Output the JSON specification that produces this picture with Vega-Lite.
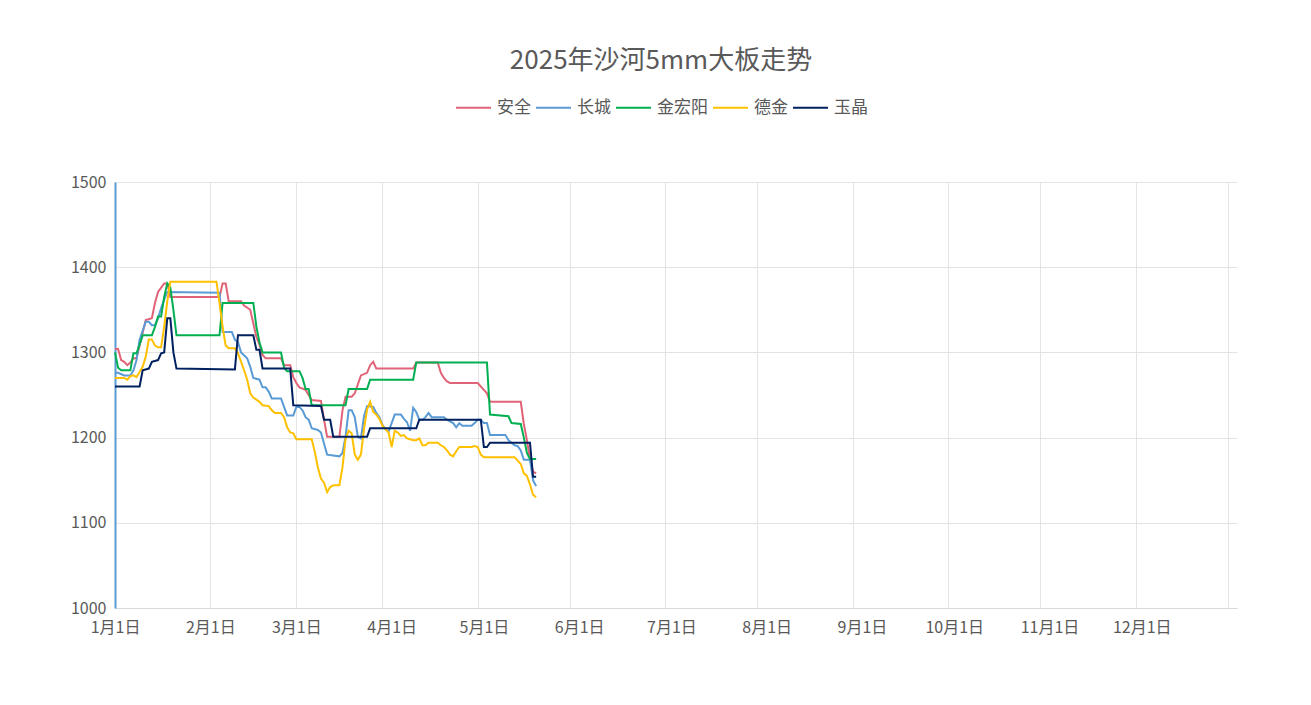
{
  "$schema": "https://vega.github.io/schema/vega-lite/v6.json",
  "width": 1122,
  "height": 426,
  "autosize": {"type": "none"},
  "padding": {"left": 115, "top": 182, "right": 74, "bottom": 97},
  "background": "white",
  "title": {"text": "2025年沙河5mm大板走势", "anchor": "middle", "frame": "group", "dx": -15, "offset": 15, "fontSize": 26, "font": "Noto Sans CJK SC", "fontWeight": "normal", "color": "#595959"},
  "data": {"values": [
    {"date":"2025/01/01","brand":"安全","price":1304},
    {"date":"2025/01/02","brand":"安全","price":1304},
    {"date":"2025/01/03","brand":"安全","price":1291},
    {"date":"2025/01/04","brand":"安全","price":1289},
    {"date":"2025/01/05","brand":"安全","price":1285},
    {"date":"2025/01/06","brand":"安全","price":1288},
    {"date":"2025/01/07","brand":"安全","price":1293},
    {"date":"2025/01/08","brand":"安全","price":1293},
    {"date":"2025/01/10","brand":"安全","price":1323},
    {"date":"2025/01/11","brand":"安全","price":1338},
    {"date":"2025/01/13","brand":"安全","price":1340},
    {"date":"2025/01/14","brand":"安全","price":1358},
    {"date":"2025/01/15","brand":"安全","price":1371},
    {"date":"2025/01/17","brand":"安全","price":1381},
    {"date":"2025/01/18","brand":"安全","price":1381},
    {"date":"2025/01/19","brand":"安全","price":1365},
    {"date":"2025/02/04","brand":"安全","price":1365},
    {"date":"2025/02/05","brand":"安全","price":1381},
    {"date":"2025/02/06","brand":"安全","price":1381},
    {"date":"2025/02/07","brand":"安全","price":1360},
    {"date":"2025/02/11","brand":"安全","price":1360},
    {"date":"2025/02/12","brand":"安全","price":1355},
    {"date":"2025/02/14","brand":"安全","price":1350},
    {"date":"2025/02/15","brand":"安全","price":1334},
    {"date":"2025/02/16","brand":"安全","price":1318},
    {"date":"2025/02/17","brand":"安全","price":1309},
    {"date":"2025/02/18","brand":"安全","price":1297},
    {"date":"2025/02/19","brand":"安全","price":1293},
    {"date":"2025/02/24","brand":"安全","price":1293},
    {"date":"2025/02/25","brand":"安全","price":1285},
    {"date":"2025/02/27","brand":"安全","price":1285},
    {"date":"2025/02/28","brand":"安全","price":1271},
    {"date":"2025/03/01","brand":"安全","price":1264},
    {"date":"2025/03/02","brand":"安全","price":1259},
    {"date":"2025/03/04","brand":"安全","price":1256},
    {"date":"2025/03/06","brand":"安全","price":1244},
    {"date":"2025/03/09","brand":"安全","price":1243},
    {"date":"2025/03/10","brand":"安全","price":1221},
    {"date":"2025/03/11","brand":"安全","price":1201},
    {"date":"2025/03/15","brand":"安全","price":1201},
    {"date":"2025/03/16","brand":"安全","price":1232},
    {"date":"2025/03/17","brand":"安全","price":1248},
    {"date":"2025/03/19","brand":"安全","price":1248},
    {"date":"2025/03/20","brand":"安全","price":1252},
    {"date":"2025/03/22","brand":"安全","price":1273},
    {"date":"2025/03/24","brand":"安全","price":1276},
    {"date":"2025/03/25","brand":"安全","price":1285},
    {"date":"2025/03/26","brand":"安全","price":1289},
    {"date":"2025/03/27","brand":"安全","price":1281},
    {"date":"2025/04/08","brand":"安全","price":1281},
    {"date":"2025/04/09","brand":"安全","price":1288},
    {"date":"2025/04/16","brand":"安全","price":1288},
    {"date":"2025/04/17","brand":"安全","price":1276},
    {"date":"2025/04/18","brand":"安全","price":1270},
    {"date":"2025/04/19","brand":"安全","price":1266},
    {"date":"2025/04/20","brand":"安全","price":1264},
    {"date":"2025/04/29","brand":"安全","price":1264},
    {"date":"2025/05/01","brand":"安全","price":1256},
    {"date":"2025/05/02","brand":"安全","price":1252},
    {"date":"2025/05/03","brand":"安全","price":1242},
    {"date":"2025/05/13","brand":"安全","price":1242},
    {"date":"2025/05/14","brand":"安全","price":1216},
    {"date":"2025/05/15","brand":"安全","price":1197},
    {"date":"2025/05/16","brand":"安全","price":1175},
    {"date":"2025/05/17","brand":"安全","price":1160},
    {"date":"2025/05/18","brand":"安全","price":1158},

    {"date":"2025/01/01","brand":"长城","price":1276},
    {"date":"2025/01/02","brand":"长城","price":1276},
    {"date":"2025/01/04","brand":"长城","price":1273},
    {"date":"2025/01/06","brand":"长城","price":1273},
    {"date":"2025/01/07","brand":"长城","price":1279},
    {"date":"2025/01/08","brand":"长城","price":1291},
    {"date":"2025/01/09","brand":"长城","price":1315},
    {"date":"2025/01/11","brand":"长城","price":1336},
    {"date":"2025/01/12","brand":"长城","price":1336},
    {"date":"2025/01/13","brand":"长城","price":1332},
    {"date":"2025/01/14","brand":"长城","price":1332},
    {"date":"2025/01/15","brand":"长城","price":1340},
    {"date":"2025/01/16","brand":"长城","price":1352},
    {"date":"2025/01/17","brand":"长城","price":1362},
    {"date":"2025/01/18","brand":"长城","price":1371},
    {"date":"2025/02/04","brand":"长城","price":1370},
    {"date":"2025/02/05","brand":"长城","price":1324},
    {"date":"2025/02/08","brand":"长城","price":1324},
    {"date":"2025/02/09","brand":"长城","price":1315},
    {"date":"2025/02/10","brand":"长城","price":1312},
    {"date":"2025/02/11","brand":"长城","price":1300},
    {"date":"2025/02/13","brand":"长城","price":1293},
    {"date":"2025/02/14","brand":"长城","price":1283},
    {"date":"2025/02/15","brand":"长城","price":1270},
    {"date":"2025/02/17","brand":"长城","price":1268},
    {"date":"2025/02/18","brand":"长城","price":1259},
    {"date":"2025/02/19","brand":"长城","price":1259},
    {"date":"2025/02/20","brand":"长城","price":1254},
    {"date":"2025/02/21","brand":"长城","price":1246},
    {"date":"2025/02/24","brand":"长城","price":1246},
    {"date":"2025/02/25","brand":"长城","price":1236},
    {"date":"2025/02/26","brand":"长城","price":1226},
    {"date":"2025/02/28","brand":"长城","price":1226},
    {"date":"2025/03/01","brand":"长城","price":1236},
    {"date":"2025/03/02","brand":"长城","price":1236},
    {"date":"2025/03/03","brand":"长城","price":1232},
    {"date":"2025/03/04","brand":"长城","price":1224},
    {"date":"2025/03/05","brand":"长城","price":1221},
    {"date":"2025/03/06","brand":"长城","price":1211},
    {"date":"2025/03/08","brand":"长城","price":1209},
    {"date":"2025/03/09","brand":"长城","price":1206},
    {"date":"2025/03/11","brand":"长城","price":1180},
    {"date":"2025/03/15","brand":"长城","price":1178},
    {"date":"2025/03/16","brand":"长城","price":1182},
    {"date":"2025/03/17","brand":"长城","price":1201},
    {"date":"2025/03/18","brand":"长城","price":1232},
    {"date":"2025/03/19","brand":"长城","price":1232},
    {"date":"2025/03/20","brand":"长城","price":1224},
    {"date":"2025/03/21","brand":"长城","price":1201},
    {"date":"2025/03/22","brand":"长城","price":1199},
    {"date":"2025/03/23","brand":"长城","price":1225},
    {"date":"2025/03/24","brand":"长城","price":1237},
    {"date":"2025/03/26","brand":"长城","price":1236},
    {"date":"2025/03/27","brand":"长城","price":1229},
    {"date":"2025/03/28","brand":"长城","price":1224},
    {"date":"2025/03/29","brand":"长城","price":1215},
    {"date":"2025/03/30","brand":"长城","price":1210},
    {"date":"2025/03/31","brand":"长城","price":1207},
    {"date":"2025/04/02","brand":"长城","price":1227},
    {"date":"2025/04/04","brand":"长城","price":1227},
    {"date":"2025/04/05","brand":"长城","price":1222},
    {"date":"2025/04/06","brand":"长城","price":1218},
    {"date":"2025/04/07","brand":"长城","price":1208},
    {"date":"2025/04/08","brand":"长城","price":1235},
    {"date":"2025/04/09","brand":"长城","price":1230},
    {"date":"2025/04/10","brand":"长城","price":1221},
    {"date":"2025/04/11","brand":"长城","price":1221},
    {"date":"2025/04/12","brand":"长城","price":1224},
    {"date":"2025/04/13","brand":"长城","price":1229},
    {"date":"2025/04/14","brand":"长城","price":1224},
    {"date":"2025/04/18","brand":"长城","price":1224},
    {"date":"2025/04/19","brand":"长城","price":1221},
    {"date":"2025/04/21","brand":"长城","price":1217},
    {"date":"2025/04/22","brand":"长城","price":1212},
    {"date":"2025/04/23","brand":"长城","price":1217},
    {"date":"2025/04/24","brand":"长城","price":1214},
    {"date":"2025/04/27","brand":"长城","price":1214},
    {"date":"2025/04/28","brand":"长城","price":1217},
    {"date":"2025/04/29","brand":"长城","price":1221},
    {"date":"2025/04/30","brand":"长城","price":1221},
    {"date":"2025/05/01","brand":"长城","price":1217},
    {"date":"2025/05/02","brand":"长城","price":1217},
    {"date":"2025/05/03","brand":"长城","price":1203},
    {"date":"2025/05/08","brand":"长城","price":1203},
    {"date":"2025/05/09","brand":"长城","price":1197},
    {"date":"2025/05/11","brand":"长城","price":1191},
    {"date":"2025/05/12","brand":"长城","price":1190},
    {"date":"2025/05/13","brand":"长城","price":1185},
    {"date":"2025/05/14","brand":"长城","price":1174},
    {"date":"2025/05/16","brand":"长城","price":1174},
    {"date":"2025/05/17","brand":"长城","price":1150},
    {"date":"2025/05/18","brand":"长城","price":1143},

    {"date":"2025/01/01","brand":"金宏阳","price":1300},
    {"date":"2025/01/02","brand":"金宏阳","price":1282},
    {"date":"2025/01/03","brand":"金宏阳","price":1279},
    {"date":"2025/01/06","brand":"金宏阳","price":1279},
    {"date":"2025/01/07","brand":"金宏阳","price":1299},
    {"date":"2025/01/08","brand":"金宏阳","price":1299},
    {"date":"2025/01/09","brand":"金宏阳","price":1309},
    {"date":"2025/01/10","brand":"金宏阳","price":1320},
    {"date":"2025/01/13","brand":"金宏阳","price":1320},
    {"date":"2025/01/14","brand":"金宏阳","price":1330},
    {"date":"2025/01/15","brand":"金宏阳","price":1342},
    {"date":"2025/01/16","brand":"金宏阳","price":1342},
    {"date":"2025/01/17","brand":"金宏阳","price":1365},
    {"date":"2025/01/18","brand":"金宏阳","price":1381},
    {"date":"2025/01/19","brand":"金宏阳","price":1376},
    {"date":"2025/01/20","brand":"金宏阳","price":1350},
    {"date":"2025/01/21","brand":"金宏阳","price":1320},
    {"date":"2025/02/04","brand":"金宏阳","price":1320},
    {"date":"2025/02/05","brand":"金宏阳","price":1358},
    {"date":"2025/02/15","brand":"金宏阳","price":1358},
    {"date":"2025/02/16","brand":"金宏阳","price":1330},
    {"date":"2025/02/17","brand":"金宏阳","price":1312},
    {"date":"2025/02/18","brand":"金宏阳","price":1300},
    {"date":"2025/02/24","brand":"金宏阳","price":1300},
    {"date":"2025/02/25","brand":"金宏阳","price":1282},
    {"date":"2025/02/26","brand":"金宏阳","price":1278},
    {"date":"2025/03/02","brand":"金宏阳","price":1278},
    {"date":"2025/03/03","brand":"金宏阳","price":1270},
    {"date":"2025/03/04","brand":"金宏阳","price":1257},
    {"date":"2025/03/05","brand":"金宏阳","price":1257},
    {"date":"2025/03/06","brand":"金宏阳","price":1238},
    {"date":"2025/03/17","brand":"金宏阳","price":1238},
    {"date":"2025/03/18","brand":"金宏阳","price":1257},
    {"date":"2025/03/24","brand":"金宏阳","price":1257},
    {"date":"2025/03/25","brand":"金宏阳","price":1268},
    {"date":"2025/04/08","brand":"金宏阳","price":1268},
    {"date":"2025/04/09","brand":"金宏阳","price":1288},
    {"date":"2025/05/02","brand":"金宏阳","price":1288},
    {"date":"2025/05/03","brand":"金宏阳","price":1227},
    {"date":"2025/05/09","brand":"金宏阳","price":1225},
    {"date":"2025/05/10","brand":"金宏阳","price":1217},
    {"date":"2025/05/13","brand":"金宏阳","price":1216},
    {"date":"2025/05/14","brand":"金宏阳","price":1200},
    {"date":"2025/05/15","brand":"金宏阳","price":1182},
    {"date":"2025/05/16","brand":"金宏阳","price":1175},
    {"date":"2025/05/18","brand":"金宏阳","price":1175},

    {"date":"2025/01/01","brand":"德金","price":1270},
    {"date":"2025/01/04","brand":"德金","price":1270},
    {"date":"2025/01/05","brand":"德金","price":1268},
    {"date":"2025/01/06","brand":"德金","price":1272},
    {"date":"2025/01/07","brand":"德金","price":1273},
    {"date":"2025/01/08","brand":"德金","price":1271},
    {"date":"2025/01/10","brand":"德金","price":1283},
    {"date":"2025/01/11","brand":"德金","price":1295},
    {"date":"2025/01/12","brand":"德金","price":1315},
    {"date":"2025/01/13","brand":"德金","price":1315},
    {"date":"2025/01/14","brand":"德金","price":1308},
    {"date":"2025/01/15","brand":"德金","price":1306},
    {"date":"2025/01/16","brand":"德金","price":1306},
    {"date":"2025/01/17","brand":"德金","price":1330},
    {"date":"2025/01/18","brand":"德金","price":1360},
    {"date":"2025/01/19","brand":"德金","price":1383},
    {"date":"2025/02/03","brand":"德金","price":1383},
    {"date":"2025/02/04","brand":"德金","price":1358},
    {"date":"2025/02/05","brand":"德金","price":1330},
    {"date":"2025/02/06","brand":"德金","price":1308},
    {"date":"2025/02/07","brand":"德金","price":1305},
    {"date":"2025/02/09","brand":"德金","price":1305},
    {"date":"2025/02/10","brand":"德金","price":1299},
    {"date":"2025/02/11","brand":"德金","price":1289},
    {"date":"2025/02/12","brand":"德金","price":1279},
    {"date":"2025/02/13","brand":"德金","price":1268},
    {"date":"2025/02/14","brand":"德金","price":1252},
    {"date":"2025/02/15","brand":"德金","price":1247},
    {"date":"2025/02/17","brand":"德金","price":1242},
    {"date":"2025/02/18","brand":"德金","price":1238},
    {"date":"2025/02/20","brand":"德金","price":1237},
    {"date":"2025/02/21","brand":"德金","price":1232},
    {"date":"2025/02/22","brand":"德金","price":1229},
    {"date":"2025/02/24","brand":"德金","price":1229},
    {"date":"2025/02/25","brand":"德金","price":1224},
    {"date":"2025/02/26","brand":"德金","price":1212},
    {"date":"2025/02/27","brand":"德金","price":1206},
    {"date":"2025/02/28","brand":"德金","price":1205},
    {"date":"2025/03/01","brand":"德金","price":1198},
    {"date":"2025/03/06","brand":"德金","price":1198},
    {"date":"2025/03/07","brand":"德金","price":1183},
    {"date":"2025/03/08","brand":"德金","price":1165},
    {"date":"2025/03/09","brand":"德金","price":1152},
    {"date":"2025/03/10","brand":"德金","price":1147},
    {"date":"2025/03/11","brand":"德金","price":1136},
    {"date":"2025/03/12","brand":"德金","price":1142},
    {"date":"2025/03/13","brand":"德金","price":1144},
    {"date":"2025/03/15","brand":"德金","price":1144},
    {"date":"2025/03/16","brand":"德金","price":1165},
    {"date":"2025/03/17","brand":"德金","price":1198},
    {"date":"2025/03/18","brand":"德金","price":1208},
    {"date":"2025/03/19","brand":"德金","price":1205},
    {"date":"2025/03/20","brand":"德金","price":1180},
    {"date":"2025/03/21","brand":"德金","price":1174},
    {"date":"2025/03/22","brand":"德金","price":1180},
    {"date":"2025/03/23","brand":"德金","price":1210},
    {"date":"2025/03/24","brand":"德金","price":1233},
    {"date":"2025/03/25","brand":"德金","price":1242},
    {"date":"2025/03/26","brand":"德金","price":1230},
    {"date":"2025/03/27","brand":"德金","price":1227},
    {"date":"2025/03/28","brand":"德金","price":1222},
    {"date":"2025/03/29","brand":"德金","price":1214},
    {"date":"2025/03/30","brand":"德金","price":1210},
    {"date":"2025/03/31","brand":"德金","price":1206},
    {"date":"2025/04/01","brand":"德金","price":1189},
    {"date":"2025/04/02","brand":"德金","price":1208},
    {"date":"2025/04/03","brand":"德金","price":1206},
    {"date":"2025/04/04","brand":"德金","price":1202},
    {"date":"2025/04/05","brand":"德金","price":1203},
    {"date":"2025/04/06","brand":"德金","price":1199},
    {"date":"2025/04/08","brand":"德金","price":1197},
    {"date":"2025/04/09","brand":"德金","price":1197},
    {"date":"2025/04/10","brand":"德金","price":1199},
    {"date":"2025/04/11","brand":"德金","price":1191},
    {"date":"2025/04/12","brand":"德金","price":1191},
    {"date":"2025/04/13","brand":"德金","price":1194},
    {"date":"2025/04/16","brand":"德金","price":1194},
    {"date":"2025/04/17","brand":"德金","price":1191},
    {"date":"2025/04/18","brand":"德金","price":1189},
    {"date":"2025/04/19","brand":"德金","price":1185},
    {"date":"2025/04/20","brand":"德金","price":1180},
    {"date":"2025/04/21","brand":"德金","price":1178},
    {"date":"2025/04/22","brand":"德金","price":1184},
    {"date":"2025/04/23","brand":"德金","price":1189},
    {"date":"2025/04/27","brand":"德金","price":1189},
    {"date":"2025/04/28","brand":"德金","price":1190},
    {"date":"2025/04/29","brand":"德金","price":1189},
    {"date":"2025/04/30","brand":"德金","price":1180},
    {"date":"2025/05/01","brand":"德金","price":1177},
    {"date":"2025/05/11","brand":"德金","price":1177},
    {"date":"2025/05/12","brand":"德金","price":1173},
    {"date":"2025/05/13","brand":"德金","price":1169},
    {"date":"2025/05/14","brand":"德金","price":1158},
    {"date":"2025/05/15","brand":"德金","price":1155},
    {"date":"2025/05/16","brand":"德金","price":1145},
    {"date":"2025/05/17","brand":"德金","price":1133},
    {"date":"2025/05/18","brand":"德金","price":1130},

    {"date":"2025/01/01","brand":"玉晶","price":1260},
    {"date":"2025/01/09","brand":"玉晶","price":1260},
    {"date":"2025/01/10","brand":"玉晶","price":1279},
    {"date":"2025/01/12","brand":"玉晶","price":1281},
    {"date":"2025/01/13","brand":"玉晶","price":1289},
    {"date":"2025/01/15","brand":"玉晶","price":1291},
    {"date":"2025/01/16","brand":"玉晶","price":1299},
    {"date":"2025/01/17","brand":"玉晶","price":1300},
    {"date":"2025/01/18","brand":"玉晶","price":1340},
    {"date":"2025/01/19","brand":"玉晶","price":1340},
    {"date":"2025/01/20","brand":"玉晶","price":1300},
    {"date":"2025/01/21","brand":"玉晶","price":1281},
    {"date":"2025/02/09","brand":"玉晶","price":1280},
    {"date":"2025/02/10","brand":"玉晶","price":1320},
    {"date":"2025/02/15","brand":"玉晶","price":1320},
    {"date":"2025/02/16","brand":"玉晶","price":1303},
    {"date":"2025/02/17","brand":"玉晶","price":1303},
    {"date":"2025/02/18","brand":"玉晶","price":1281},
    {"date":"2025/02/27","brand":"玉晶","price":1281},
    {"date":"2025/02/28","brand":"玉晶","price":1238},
    {"date":"2025/03/09","brand":"玉晶","price":1237},
    {"date":"2025/03/10","brand":"玉晶","price":1221},
    {"date":"2025/03/12","brand":"玉晶","price":1221},
    {"date":"2025/03/13","brand":"玉晶","price":1201},
    {"date":"2025/03/24","brand":"玉晶","price":1201},
    {"date":"2025/03/25","brand":"玉晶","price":1211},
    {"date":"2025/04/09","brand":"玉晶","price":1211},
    {"date":"2025/04/10","brand":"玉晶","price":1221},
    {"date":"2025/04/30","brand":"玉晶","price":1221},
    {"date":"2025/05/01","brand":"玉晶","price":1189},
    {"date":"2025/05/02","brand":"玉晶","price":1189},
    {"date":"2025/05/03","brand":"玉晶","price":1194},
    {"date":"2025/05/16","brand":"玉晶","price":1194},
    {"date":"2025/05/17","brand":"玉晶","price":1154},
    {"date":"2025/05/18","brand":"玉晶","price":1154}
  ]},
  "mark": {"type": "line", "strokeWidth": 2, "interpolate": "linear"},
  "encoding": {
    "x": {
      "field": "date",
      "type": "temporal",
      "scale": {"domain": [{"year": 2025, "month": 1, "date": 1}, {"year": 2026, "month": 1, "date": 1}], "nice": false},
      "axis": {
        "title": null,
        "values": [
          {"year": 2025, "month": 1, "date": 1},
          {"year": 2025, "month": 2, "date": 1},
          {"year": 2025, "month": 3, "date": 1},
          {"year": 2025, "month": 3, "date": 29},
          {"year": 2025, "month": 4, "date": 1},
          {"year": 2025, "month": 4, "date": 29},
          {"year": 2025, "month": 5, "date": 1},
          {"year": 2025, "month": 5, "date": 29},
          {"year": 2025, "month": 6, "date": 1},
          {"year": 2025, "month": 6, "date": 29},
          {"year": 2025, "month": 7, "date": 1},
          {"year": 2025, "month": 7, "date": 29},
          {"year": 2025, "month": 8, "date": 1},
          {"year": 2025, "month": 8, "date": 29},
          {"year": 2025, "month": 9, "date": 1},
          {"year": 2025, "month": 9, "date": 29},
          {"year": 2025, "month": 10, "date": 1},
          {"year": 2025, "month": 10, "date": 29},
          {"year": 2025, "month": 11, "date": 1},
          {"year": 2025, "month": 11, "date": 29},
          {"year": 2025, "month": 12, "date": 1},
          {"year": 2025, "month": 12, "date": 29}
        ],
        "labelExpr": "date(datum.value) == 1 ? timeFormat(datum.value, '%-m月%-d日') : ''",
        "labelOverlap": false,
        "labelFlush": false,
        "ticks": false,
        "domainColor": "#d9d9d9",
        "domainWidth": 1,
        "gridColor": "#e3e3e3",
        "gridOpacity": {"condition": {"test": "date(datum.value) == 1 && month(datum.value) >= 3", "value": 0}, "value": 1},
        "labelFont": "Noto Sans CJK SC",
        "labelFontSize": 16,
        "labelColor": "#595959",
        "labelPadding": 11
      }
    },
    "y": {
      "field": "price",
      "type": "quantitative",
      "scale": {"domain": [1000, 1500], "nice": false, "zero": false},
      "axis": {
        "title": null,
        "values": [1000, 1100, 1200, 1300, 1400, 1500],
        "format": "d",
        "ticks": false,
        "domainColor": "#5B9BD5",
        "domainWidth": 2,
        "gridColor": "#e3e3e3",
        "labelFont": "Noto Sans CJK SC",
        "labelFontSize": 16,
        "labelColor": "#595959",
        "labelPadding": 9
      }
    },
    "color": {
      "field": "brand",
      "type": "nominal",
      "scale": {"domain": ["安全", "长城", "金宏阳", "德金", "玉晶"], "range": ["#E06377", "#5B9BD5", "#00B050", "#FFC000", "#002060"]},
      "legend": {
        "title": null,
        "orient": "none",
        "legendX": 340,
        "legendY": -93,
        "direction": "horizontal",
        "symbolType": "stroke",
        "symbolSize": 1225,
        "symbolStrokeWidth": 2,
        "labelFont": "Noto Sans CJK SC",
        "labelFontSize": 17,
        "labelColor": "#595959",
        "labelOffset": 5,
        "columnPadding": 1,
        "padding": 0
      }
    }
  },
  "config": {"view": {"stroke": null}, "font": "Noto Sans CJK SC"}
}
